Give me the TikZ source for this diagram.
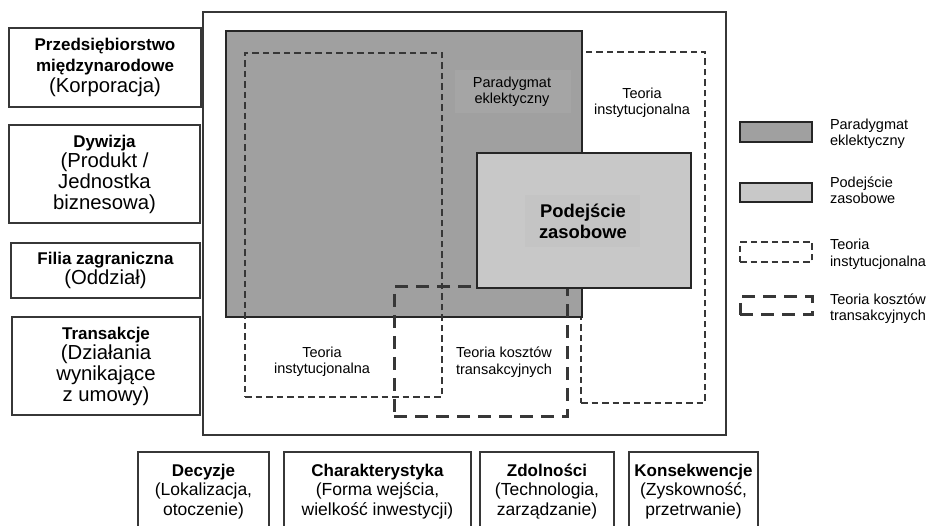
\documentclass[tikz,border=0pt]{standalone}
\usepackage{fontspec}
\setmainfont{Liberation Sans}
\definecolor{edgegray}{RGB}{55,55,55}
\definecolor{darkfill}{RGB}{160,160,160}
\definecolor{darkpatch}{RGB}{165,165,165}
\definecolor{lightfill}{RGB}{200,200,200}
\definecolor{lightpatch}{RGB}{196,196,196}
\begin{document}
\begin{tikzpicture}[x=1pt,y=-1pt,
  every node/.style={inner sep=0pt, outer sep=0pt},
  sidebox/.style={draw=edgegray, line width=1.7pt, align=center,
    font=\fontsize{20.3}{20.7}\selectfont},
  bottombox/.style={draw=edgegray, line width=1.7pt, align=center,
    font=\fontsize{17.5}{19.5}\selectfont},
  frame/.style={draw=edgegray, line width=1.7pt},
  eclectic/.style={draw=black!85, line width=1.7pt, fill=darkfill},
  resource/.style={draw=black!85, line width=1.7pt, fill=lightfill},
  institutional/.style={draw=edgegray, line width=1.3pt, dash pattern=on 6.5pt off 4pt},
  transaction/.style={draw=edgegray, line width=3pt, dash pattern=on 13pt off 8pt},
  lbl/.style={align=center, font=\fontsize{14.5}{16.5}\selectfont},
  legtext/.style={anchor=west, align=left, font=\fontsize{14.5}{16.5}\selectfont}
]
\newcommand{\hbf}[1]{{\fontsize{17}{20.7}\selectfont\bfseries #1}}
\useasboundingbox (0,0) rectangle (930,526);

% left column: levels of analysis
\node[sidebox, minimum width=192pt, minimum height=79pt] (corp) at (105,67.5)
  {\hbf{Przedsiębiorstwo}\\\hbf{międzynarodowe}\\(Korporacja)};
\node[sidebox, minimum width=191pt, minimum height=98pt] (div) at (104.5,174)
  {\hbf{Dywizja}\\(Produkt /\\Jednostka\\biznesowa)};
\node[sidebox, minimum width=189pt, minimum height=55pt] (sub) at (105.5,270.5)
  {\hbf{Filia zagraniczna}\\(Oddział)};
\node[sidebox, minimum width=188pt, minimum height=98pt] (trans) at (106,366)
  {\hbf{Transakcje}\\(Działania\\wynikające\\z umowy)};

% bottom row: research questions
\node[bottombox, minimum width=131pt, minimum height=79pt] (dec) at (203.5,491.5)
  {\hbf{Decyzje}\\(Lokalizacja,\\otoczenie)};
\node[bottombox, minimum width=187pt, minimum height=79pt] (cha) at (377.5,491.5)
  {\hbf{Charakterystyka}\\(Forma wejścia,\\wielkość inwestycji)};
\node[bottombox, minimum width=134pt, minimum height=79pt] (cap) at (547,491.5)
  {\hbf{Zdolności}\\(Technologia,\\zarządzanie)};
\node[bottombox, minimum width=129pt, minimum height=79pt] (con) at (693.5,491.5)
  {\hbf{Konsekwencje}\\(Zyskowność,\\przetrwanie)};

% central panel with overlapping theories
\node[frame, minimum width=523pt, minimum height=423pt] (panel) at (464.5,223.5) {};
\node[institutional, minimum width=124pt, minimum height=351pt] (instR) at (643,227.5) {};
\node[eclectic, minimum width=356pt, minimum height=286pt] (ecl) at (404,174) {};
\node[fill=darkpatch, minimum width=116pt, minimum height=43pt] (eclpatch) at (513,91.5) {};
\node[lbl] (ecltext) at (512,92) {Paradygmat\\eklektyczny};
\node[institutional, minimum width=197pt, minimum height=344pt] (instL) at (343.5,225) {};
\node[transaction, minimum width=173pt, minimum height=130pt] (tce) at (480.5,352) {};
\node[resource, minimum width=214pt, minimum height=135pt] (rbv) at (584,220.5) {};
\node[fill=lightpatch, minimum width=115pt, minimum height=52pt] (rbvpatch) at (582.5,221) {};
\node[align=center, font=\fontsize{18.4}{20.7}\selectfont\bfseries] (rbvtext) at (583,221)
  {Podejście\\zasobowe};
\node[lbl] (instRtext) at (642,103) {Teoria\\instytucjonalna};
\node[lbl] (instLtext) at (322,362) {Teoria\\instytucjonalna};
\node[lbl] (tcetext) at (504,362) {Teoria kosztów\\transakcyjnych};

% legend
\node[eclectic, minimum width=72pt, minimum height=20pt] (leg1) at (776,132) {};
\node[resource, minimum width=72pt, minimum height=19pt] (leg2) at (776,192.5) {};
\node[institutional, minimum width=72pt, minimum height=20pt] (leg3) at (776,252) {};
\node[transaction, minimum width=72pt, minimum height=18pt] (leg4) at (776,306) {};
\node[legtext] (leg1t) at (830,134) {Paradygmat\\eklektyczny};
\node[legtext] (leg2t) at (830,190) {Podejście\\zasobowe};
\node[legtext] (leg3t) at (830,254.5) {Teoria\\instytucjonalna};
\node[legtext] (leg4t) at (830,308.5) {Teoria kosztów\\transakcyjnych};
\end{tikzpicture}
\end{document}
